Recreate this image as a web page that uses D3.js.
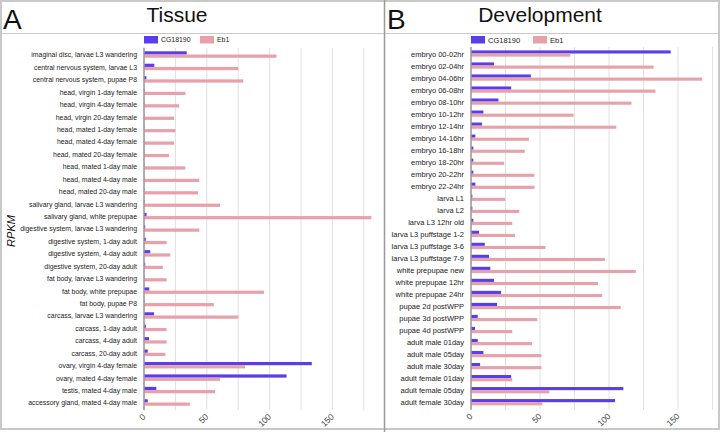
<!DOCTYPE html>
<html>
<head>
<meta charset="utf-8">
<script src="https://cdn.jsdelivr.net/npm/d3@7"></script>
<style>
  body { margin: 0; background: #fff; }
  svg { font-family: "Liberation Sans", Arial, sans-serif; }
</style>
</head>
<body>
<div id="chart"></div>
<script>
// --- data ---
const series = ["CG18190", "Eb1"];
const colors = ["#5b3ee9", "#e8a0aa"];

const tissueLabels = [
  "imaginal disc, larvae L3 wandering", "central nervous system, larvae L3",
  "central nervous system, pupae P8", "head, virgin 1-day female",
  "head, virgin 4-day female", "head, virgin 20-day female",
  "head, mated 1-day female", "head, mated 4-day female",
  "head, mated 20-day female", "head, mated 1-day male",
  "head, mated 4-day male", "head, mated 20-day male",
  "salivary gland, larvae L3 wandering", "salivary gland, white prepupae",
  "digestive system, larvae L3 wandering", "digestive system, 1-day adult",
  "digestive system, 4-day adult", "digestive system, 20-day adult",
  "fat body, larvae L3 wandering", "fat body, white prepupae",
  "fat body, pupae P8", "carcass, larvae L3 wandering",
  "carcass, 1-day adult", "carcass, 4-day adult", "carcass, 20-day adult",
  "ovary, virgin 4-day female", "ovary, mated 4-day female",
  "testis, mated 4-day male", "accessory gland, mated 4-day male"
];
const tissueCG = [34, 8.2, 1.9, 0.3, 0.2, 0.2, 0.2, 0.2, 0.2, 0.2, 0.2, 0.2, 0.3, 2,
  1, 1.5, 5, 1, 0.3, 4.2, 0.3, 8, 1.5, 4, 3, 133.6, 113.5, 9.8, 3];
const tissueEb1 = [105.5, 75, 79, 33, 28, 24, 25, 24, 20, 33, 44, 43, 60.6, 181,
  44, 18, 21, 15, 18, 95.5, 55.6, 75, 18, 18, 17, 80.4, 60.6, 56.6, 36.5];

const devLabels = [
  "embryo 00-02hr", "embryo 02-04hr", "embryo 04-06hr", "embryo 06-08hr",
  "embryo 08-10hr", "embryo 10-12hr", "embryo 12-14hr", "embryo 14-16hr",
  "embryo 16-18hr", "embryo 18-20hr", "embryo 20-22hr", "embryo 22-24hr",
  "larva L1", "larva L2", "larva L3 12hr old", "larva L3 puffstage 1-2",
  "larva L3 puffstage 3-6", "larva L3 puffstage 7-9", "white prepupae new",
  "white prepupae 12hr", "white prepupae 24hr", "pupae 2d postWPP",
  "pupae 3d postWPP", "pupae 4d postWPP", "adult male 01day",
  "adult male 05day", "adult male 30day", "adult female 01day",
  "adult female 05day", "adult female 30day"
];
const devCG = [144.7, 16.7, 43.4, 29.1, 19.9, 9, 8, 3.2, 1.7, 1.7, 1.7, 3.2,
  1, 1, 1.7, 5.8, 10, 13.1, 14, 16.7, 21.8, 18.9, 4.9, 2.9, 4.9, 9, 6.6,
  29.1, 110.4, 104.4];
const devEb1 = [72, 132.3, 167.5, 133.7, 116.3, 74.3, 105.3, 42, 39, 24, 45.9, 46,
  24.8, 35, 29.9, 31.8, 54, 97, 119.4, 92, 95.1, 108.5, 48, 29.9, 44.2, 51, 51,
  29.9, 56.8, 51.7];

const xTicks = [0, 50, 100, 150];
const gridTicks = [0, 25, 50, 75, 100, 125, 150, 175];

const W = 720, H = 432;
const svg = d3.select("#chart").append("svg")
  .attr("width", W).attr("height", H);

svg.append("rect").attr("width", W).attr("height", H).attr("fill", "#fff");

// frame lines
svg.append("rect")
  .attr("x", 1).attr("y", 1).attr("width", W - 2).attr("height", H - 4)
  .attr("fill", "none").attr("stroke", "#c8c8c8").attr("stroke-width", 2);
svg.append("line")
  .attr("x1", 0).attr("x2", W).attr("y1", 33.5).attr("y2", 33.5)
  .attr("stroke", "#c8c8c8").attr("stroke-width", 1);
svg.append("line")
  .attr("x1", 384.5).attr("x2", 384.5).attr("y1", 0).attr("y2", H)
  .attr("stroke", "#9a9a9a").attr("stroke-width", 1.5);

function panel(opts) {
  const { letter, letterX, title, titleX, labels, cg, eb, x0, xMax, pxPerUnit, yTop, yBottom, fs } = opts;
  const g = svg.append("g");

  g.append("text").attr("x", letterX).attr("y", 28.5)
    .attr("font-size", 28).attr("fill", "#111").text(letter);
  g.append("text").attr("x", titleX).attr("y", 22).attr("text-anchor", "middle")
    .attr("font-size", 21).attr("fill", "#111").text(title);

  const x = d3.scaleLinear().domain([0, xMax]).range([x0, x0 + xMax * pxPerUnit]);
  const y = d3.scaleBand().domain(labels).range([yTop, yBottom])
    .paddingInner(0.48).paddingOuter(0.24);
  const ySub = d3.scaleBand().domain(series).range([-0.5, y.bandwidth() - 0.5]);

  // gridlines
  g.selectAll("line.grid").data(gridTicks).enter().append("line")
    .attr("class", "grid")
    .attr("x1", d => x(d)).attr("x2", d => x(d))
    .attr("y1", yTop - 1).attr("y2", yBottom + 1)
    .attr("stroke", "#e0e0e0").attr("stroke-width", 1);

  // bars
  const rows = labels.map((l, i) => ({ label: l, values: [cg[i], eb[i]] }));
  const grp = g.selectAll("g.row").data(rows).enter().append("g")
    .attr("transform", d => `translate(0,${y(d.label)})`);
  grp.selectAll("rect").data(d => d.values.map((v, k) => ({ key: series[k], v, k })))
    .enter().append("rect")
    .attr("x", x(0))
    .attr("y", d => ySub(d.key))
    .attr("width", d => x(d.v) - x(0))
    .attr("height", ySub.bandwidth())
    .attr("fill", d => colors[d.k]);

  // zero axis line
  g.append("line")
    .attr("x1", x(0)).attr("x2", x(0)).attr("y1", yTop - 1).attr("y2", yBottom + 1)
    .attr("stroke", "#9a9a9a").attr("stroke-width", 1.5);

  // category labels
  g.selectAll("text.cat").data(labels).enter().append("text")
    .attr("class", "cat")
    .attr("x", x(0) - 7)
    .attr("y", d => y(d) + y.bandwidth() / 2)
    .attr("dy", "0.35em")
    .attr("text-anchor", "end")
    .attr("font-size", fs).attr("fill", "#222")
    .text(d => d);

  // x tick labels, rotated
  g.selectAll("text.tick").data(xTicks).enter().append("text")
    .attr("class", "tick")
    .attr("transform", d => `translate(${x(d)},${yBottom + 6}) rotate(-45)`)
    .attr("text-anchor", "end")
    .attr("dy", "0.35em")
    .attr("font-size", 8.5).attr("fill", "#444")
    .text(d => d);

  // legend
  const leg = g.append("g");
  const legX = [x0, opts.legend2X];
  series.forEach((s, k) => {
    leg.append("rect").attr("x", legX[k]).attr("y", 36)
      .attr("width", 14).attr("height", 7.5).attr("fill", colors[k]);
    leg.append("text").attr("x", legX[k] + 17).attr("y", 40)
      .attr("dy", "0.35em").attr("font-size", fs).attr("fill", "#222").text(s);
  });
}

panel({
  letter: "A", letterX: 3, title: "Tissue", titleX: 177,
  labels: tissueLabels, cg: tissueCG, eb: tissueEb1,
  x0: 144, xMax: 185, pxPerUnit: 1.256,
  yTop: 48.8, yBottom: 409.2, legend2X: 200, fs: 6.9
});

panel({
  letter: "B", letterX: 387, title: "Development", titleX: 540,
  labels: devLabels, cg: devCG, eb: devEb1,
  x0: 471, xMax: 175, pxPerUnit: 1.38,
  yTop: 48, yBottom: 408.7, legend2X: 533, fs: 7.5
});

// y axis title
svg.append("text")
  .attr("transform", "translate(15,231) rotate(-90)")
  .attr("text-anchor", "middle")
  .attr("font-size", 11).attr("font-style", "italic").attr("fill", "#111")
  .text("RPKM");
</script>
</body>
</html>
